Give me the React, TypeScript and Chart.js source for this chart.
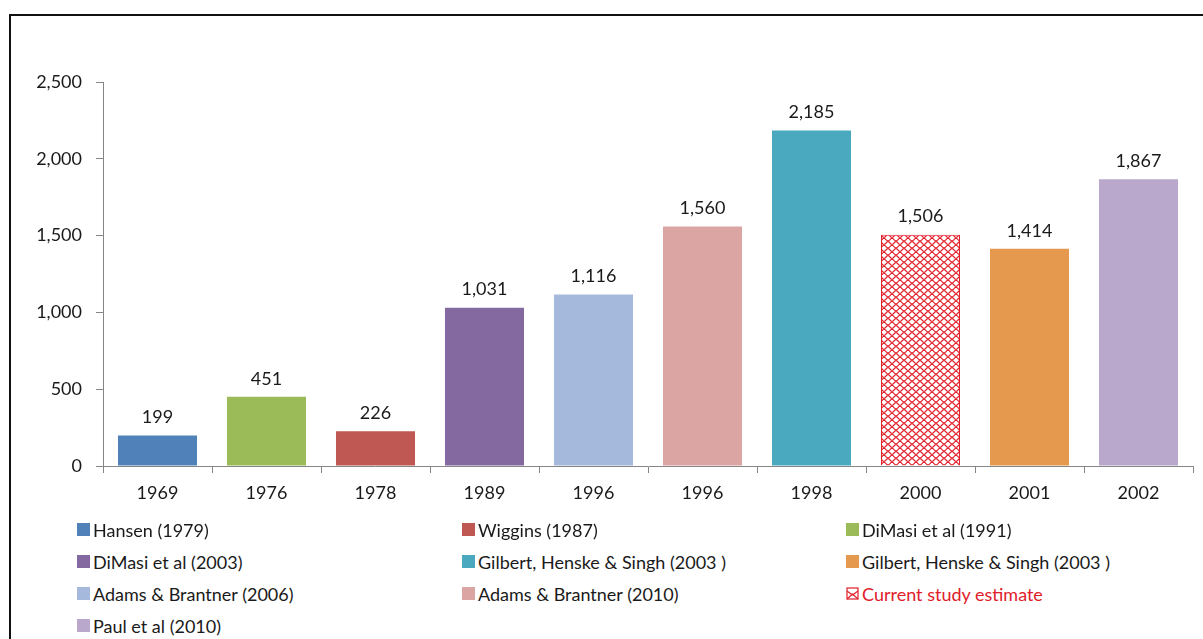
import React, { useEffect, useRef } from "react";
import { Chart, registerables } from "chart.js";

Chart.register(...registerables);

const years = ["1969", "1976", "1978", "1989", "1996", "1996", "1998", "2000", "2001", "2002"];
const costs = [199, 451, 226, 1031, 1116, 1560, 2185, 1506, 1414, 1867];
const studies = [
  "Hansen (1979)",
  "DiMasi et al (1991)",
  "Wiggins (1987)",
  "DiMasi et al (2003)",
  "Adams & Brantner (2006)",
  "Adams & Brantner (2010)",
  "Gilbert, Henske & Singh (2003 )",
  "Current study estimate",
  "Gilbert, Henske & Singh (2003 )",
  "Paul et al (2010)",
];
const barColors = [
  "#5081B8",
  "#9BBB59",
  "#BF5852",
  "#8468A0",
  "#A4B9DB",
  "#DBA5A3",
  "#4BA9BF",
  "PATTERN",
  "#E4994F",
  "#B9A8CB",
];
const legendOrder = [0, 2, 1, 3, 6, 8, 4, 5, 7, 9];
const yTicks = [0, 500, 1000, 1500, 2000, 2500];

const FONT = "Lato, 'Open Sans', sans-serif";
const PATTERN_RED = "#E0202A";

function makePattern(): CanvasPattern | string {
  const t = document.createElement("canvas");
  t.width = 8;
  t.height = 7;
  const c = t.getContext("2d");
  if (!c) return PATTERN_RED;
  c.fillStyle = "#fff";
  c.fillRect(0, 0, 8, 7);
  c.strokeStyle = PATTERN_RED;
  c.lineWidth = 1.2;
  const wave = (base: number, amp: number) => {
    c.beginPath();
    for (let x = 0; x <= 8; x += 0.5) {
      const y = base + amp * Math.cos((x / 8) * Math.PI * 2);
      if (x === 0) c.moveTo(x, y);
      else c.lineTo(x, y);
    }
    c.stroke();
  };
  wave(1.6, 1.4);
  wave(5.0, -1.4);
  const p = document.createElement("canvas").getContext("2d")!.createPattern(t, "repeat");
  return p || PATTERN_RED;
}

function PatternIcon() {
  const ref = useRef<HTMLCanvasElement | null>(null);
  useEffect(() => {
    const cv = ref.current;
    if (!cv) return;
    const c = cv.getContext("2d");
    if (!c) return;
    c.fillStyle = "#fff";
    c.fillRect(0, 0, 13, 13);
    c.strokeStyle = PATTERN_RED;
    c.lineWidth = 1.2;
    c.strokeRect(1, 1, 11, 11);
    c.beginPath();
    c.moveTo(1, 4);
    c.lineTo(6.5, 8);
    c.lineTo(12, 4);
    c.moveTo(1, 12);
    c.lineTo(6.5, 7);
    c.lineTo(12, 12);
    c.stroke();
  }, []);
  return <canvas ref={ref} width={13} height={13} style={{ display: "block" }} />;
}

const valueLabels = {
  id: "valueLabels",
  afterDatasetsDraw(chart: any) {
    const ctx = chart.ctx;
    const meta = chart.getDatasetMeta(0);
    ctx.save();
    ctx.font = `18px ${FONT}`;
    ctx.fillStyle = "#1a1a1a";
    ctx.textAlign = "center";
    ctx.textBaseline = "middle";
    meta.data.forEach((bar: any, i: number) => {
      ctx.fillText(costs[i].toLocaleString("en-US"), bar.x, bar.y - 18);
    });
    ctx.restore();
  },
};

function BarChart() {
  const ref = useRef<HTMLCanvasElement | null>(null);
  useEffect(() => {
    if (!ref.current) return;
    const pattern = makePattern();
    const bg = barColors.map((c) => (c === "PATTERN" ? pattern : c));
    const border = barColors.map((c) => (c === "PATTERN" ? PATTERN_RED : c));
    const bw = barColors.map((c) => (c === "PATTERN" ? 1 : 0));
    const chart = new Chart(ref.current, {
      type: "bar",
      data: {
        labels: years,
        datasets: [
          {
            data: costs,
            backgroundColor: bg as any,
            borderColor: border,
            borderWidth: bw,
            categoryPercentage: 1,
            barPercentage: 0.725,
          },
        ],
      },
      options: {
        animation: false,
        responsive: false,
        maintainAspectRatio: false,
        layout: { padding: { top: 82, right: 10, bottom: 0, left: 0 } },
        plugins: { legend: { display: false }, tooltip: { enabled: false } },
        scales: {
          x: {
            grid: {
              display: true,
              offset: true,
              drawOnChartArea: false,
              drawTicks: true,
              tickLength: 7,
              color: "#868686",
            },
            border: { color: "#868686", width: 1 },
            ticks: {
              color: "#1a1a1a",
              font: { family: FONT, size: 18 },
              padding: 9,
              maxRotation: 0,
              autoSkip: false,
            },
            afterFit(scale: any) {
              scale.height = 54;
            },
          },
          y: {
            min: 0,
            max: 2500,
            afterBuildTicks(scale: any) {
              scale.ticks = yTicks.map((v) => ({ value: v }));
            },
            grid: {
              display: true,
              drawOnChartArea: false,
              drawTicks: true,
              tickLength: 7,
              color: "#868686",
            },
            border: { color: "#868686", width: 1 },
            ticks: {
              color: "#1a1a1a",
              font: { family: FONT, size: 18 },
              padding: 14,
              callback: (v: any) => Number(v).toLocaleString("en-US"),
            },
            afterFit(scale: any) {
              scale.width = 103;
            },
          },
        },
      },
      plugins: [valueLabels],
    });
    return () => chart.destroy();
  }, []);
  return (
    <canvas
      ref={ref}
      width={1203}
      height={520}
      style={{ position: "absolute", left: 0, top: 0, width: 1203, height: 520 }}
    />
  );
}

const colLeft = [77, 462, 846];
const rowCenter = [529.5, 561.5, 593.5, 625.5];

export default function App() {
  return (
    <div
      style={{
        position: "fixed",
        left: 0,
        top: 0,
        width: 1203,
        height: 639,
        overflow: "hidden",
        background: "#fff",
        fontFamily: FONT,
      }}
    >
      <div
        style={{
          position: "absolute",
          left: 9,
          top: 14,
          width: 1400,
          height: 800,
          border: "2px solid #111",
          boxSizing: "border-box",
        }}
      />
      <BarChart />
      {legendOrder.map((idx, k) => {
        const col = k % 3;
        const row = Math.floor(k / 3);
        const isPattern = barColors[idx] === "PATTERN";
        return (
          <div
            key={k}
            style={{
              position: "absolute",
              left: colLeft[col],
              top: rowCenter[row] - 12,
              height: 24,
              display: "flex",
              alignItems: "center",
              whiteSpace: "nowrap",
            }}
          >
            {isPattern ? (
              <PatternIcon />
            ) : (
              <div style={{ width: 13, height: 13, background: barColors[idx] }} />
            )}
            <span
              style={{
                marginLeft: 3,
                fontSize: 18,
                color: isPattern ? PATTERN_RED : "#1a1a1a",
                lineHeight: "24px",
              }}
            >
              {studies[idx]}
            </span>
          </div>
        );
      })}
    </div>
  );
}
